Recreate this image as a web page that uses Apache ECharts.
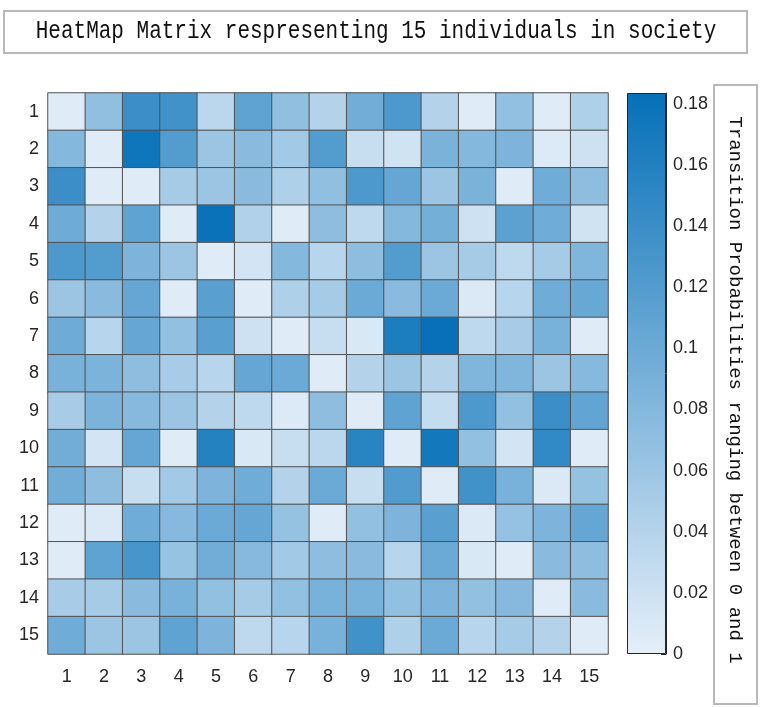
<!DOCTYPE html>
<html>
<head>
<meta charset="utf-8">
<script src="https://cdn.jsdelivr.net/npm/echarts@6/dist/echarts.min.js"></script>
<style>
html,body{margin:0;padding:0;background:#fff;}
#chart{width:762px;height:707px;}
</style>
</head>
<body>
<div id="chart"></div>
<script>
const titleText = 'HeatMap Matrix respresenting 15 individuals in society';
const colorbarTitle = 'Transition Probabilities ranging between 0 and 1';
const rowLabels = ['1','2','3','4','5','6','7','8','9','10','11','12','13','14','15'];
const colLabels = ['1','2','3','4','5','6','7','8','9','10','11','12','13','14','15'];
const colorbarMin = 0;
const colorbarMax = 0.1835;
const colorbarInterval = 0.02;

const row1  = [0.005,0.07,0.14,0.135,0.035,0.11,0.07,0.04,0.095,0.125,0.04,0.005,0.068,0.005,0.045];
const row2  = [0.08,0.005,0.175,0.12,0.06,0.075,0.055,0.12,0.025,0.018,0.088,0.08,0.085,0.007,0.02];
const row3  = [0.14,0.005,0.005,0.052,0.06,0.075,0.045,0.07,0.125,0.105,0.06,0.088,0.005,0.097,0.072];
const row4  = [0.098,0.04,0.11,0.005,0.18,0.043,0.005,0.072,0.032,0.08,0.093,0.02,0.112,0.097,0.018];
const row5  = [0.125,0.12,0.085,0.06,0.005,0.015,0.08,0.038,0.072,0.12,0.06,0.052,0.032,0.052,0.082];
const row6  = [0.06,0.075,0.105,0.005,0.115,0.005,0.045,0.052,0.1,0.075,0.1,0.008,0.038,0.097,0.103];
const row7  = [0.098,0.038,0.105,0.068,0.115,0.02,0.005,0.025,0.01,0.165,0.183,0.032,0.05,0.09,0.005];
const row8  = [0.09,0.087,0.072,0.05,0.038,0.105,0.1,0.005,0.04,0.06,0.04,0.082,0.082,0.06,0.078];
const row9  = [0.05,0.087,0.078,0.06,0.04,0.032,0.007,0.072,0.005,0.11,0.028,0.125,0.068,0.14,0.108];
const row10 = [0.095,0.015,0.105,0.005,0.158,0.01,0.025,0.035,0.155,0.005,0.172,0.068,0.015,0.148,0.005];
const row11 = [0.095,0.072,0.025,0.055,0.085,0.097,0.04,0.1,0.025,0.122,0.005,0.135,0.09,0.008,0.065];
const row12 = [0.005,0.008,0.097,0.078,0.1,0.105,0.065,0.005,0.068,0.085,0.115,0.008,0.066,0.085,0.105];
const row13 = [0.005,0.11,0.13,0.064,0.095,0.078,0.055,0.072,0.075,0.038,0.1,0.01,0.005,0.075,0.072];
const row14 = [0.05,0.052,0.075,0.09,0.068,0.052,0.068,0.09,0.09,0.068,0.085,0.068,0.078,0.005,0.075];
const row15 = [0.097,0.06,0.06,0.11,0.085,0.032,0.038,0.09,0.135,0.045,0.1,0.038,0.052,0.04,0.005];
const matrix = [row1,row2,row3,row4,row5,row6,row7,row8,row9,row10,row11,row12,row13,row14,row15];

const lowColor = '#e5eff9';
const highColor = '#0670b8';

const heatData = [];
matrix.forEach((row, r) => row.forEach((v, c) => heatData.push([c, r, v])));

const chart = echarts.init(document.getElementById('chart'), null, {renderer: 'canvas'});
const labelFont = "'Liberation Sans', Arial, sans-serif";
const option = {
  backgroundColor: '#ffffff',
  animation: false,
  grid: [
    {left: 48, top: 93, width: 560, height: 561},
    {left: 627, top: 93, width: 39, height: 561}
  ],
  xAxis: [
    {type: 'category', gridIndex: 0, data: colLabels, position: 'bottom',
     axisLine: {show: false}, axisTick: {show: false}, splitLine: {show: false},
     axisLabel: {fontSize: 18, color: '#262626', fontFamily: labelFont, margin: 14}},
    {type: 'category', gridIndex: 1, data: [''], show: false}
  ],
  yAxis: [
    {type: 'category', gridIndex: 0, data: rowLabels, inverse: true,
     axisLine: {show: false}, axisTick: {show: false}, splitLine: {show: false},
     axisLabel: {fontSize: 18, color: '#262626', fontFamily: labelFont, margin: 9}},
    {type: 'value', gridIndex: 1, min: colorbarMin, max: colorbarMax, interval: colorbarInterval,
     position: 'right', splitLine: {show: false},
     axisLine: {show: true, lineStyle: {color: '#262626', width: 1}},
     axisTick: {show: true, inside: true, length: 5, lineStyle: {color: '#262626'}},
     axisLabel: {fontSize: 18, color: '#262626', fontFamily: labelFont, margin: 7, showMaxLabel: false}}
  ],
  visualMap: {
    type: 'continuous', show: false, seriesIndex: 0,
    min: colorbarMin, max: colorbarMax,
    inRange: {color: [lowColor, highColor]}
  },
  series: [
    {type: 'heatmap', xAxisIndex: 0, yAxisIndex: 0, data: heatData,
     itemStyle: {borderColor: '#505050', borderWidth: 1}, emphasis: {disabled: true}},
    {type: 'bar', xAxisIndex: 1, yAxisIndex: 1, data: [colorbarMax], barWidth: '100%', silent: true,
     itemStyle: {
       color: new echarts.graphic.LinearGradient(0, 1, 0, 0, [
         {offset: 0, color: lowColor}, {offset: 1, color: highColor}
       ]),
       borderColor: '#262626', borderWidth: 1
     }}
  ],
  graphic: [
    {type: 'rect', left: 3, top: 10, shape: {width: 743, height: 42},
     style: {fill: '#ffffff', stroke: '#b8b8b8', lineWidth: 2}, z: 10},
    {type: 'text', x: 376, y: 31, scaleY: 1.2, z: 11,
     style: {text: titleText, font: '21px "Liberation Mono", monospace', fill: '#111111',
             textAlign: 'center', textVerticalAlign: 'middle', align: 'center', verticalAlign: 'middle'}},
    {type: 'rect', left: 713, top: 84, shape: {width: 43, height: 619},
     style: {fill: '#ffffff', stroke: '#b8b8b8', lineWidth: 2}, z: 10},
    {type: 'text', x: 735, y: 390, rotation: -Math.PI / 2, z: 11,
     style: {text: colorbarTitle, font: '19px "Liberation Mono", monospace', fill: '#111111',
             textAlign: 'center', textVerticalAlign: 'middle', align: 'center', verticalAlign: 'middle'}}
  ]
};
chart.setOption(option);
</script>
</body>
</html>
